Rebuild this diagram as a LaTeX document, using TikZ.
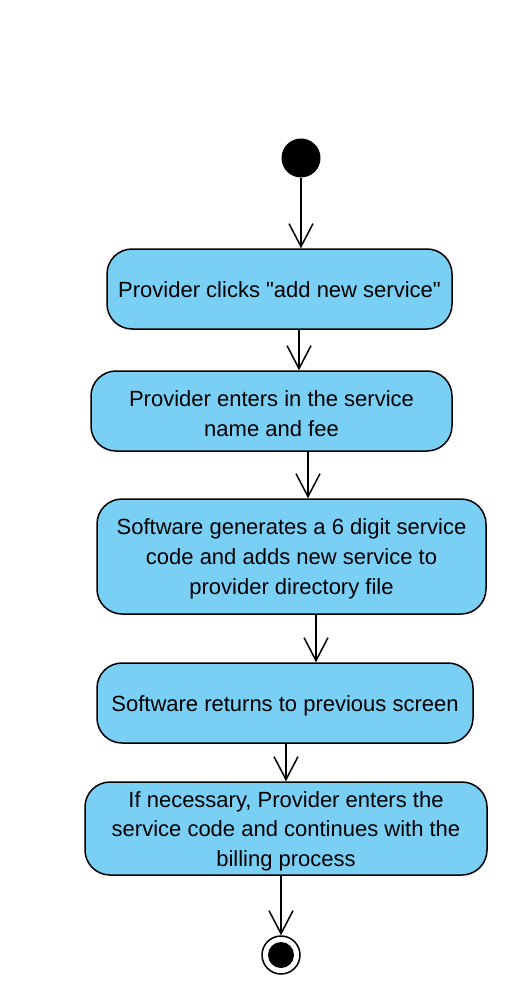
\documentclass[tikz,border=0pt]{standalone}
\usepackage{fontspec}
\setmainfont{Liberation Sans}[Ligatures=TeXOff]
\usetikzlibrary{arrows.meta}
\definecolor{actfill}{RGB}{122,207,245}
\newcommand{\tpad}{\rule{0pt}{21pt}}
\tikzset{
  actbox/.style={draw=black, line width=1.5pt, fill=actfill, rounded corners=25pt, align=center, inner sep=0pt,
    font=\fontsize{22}{30}\selectfont},
  flow/.style={draw=black, line width=1.5pt, -{Straight Barb[length=23pt,width=24pt,line width=1.5pt]}},
}
\begin{document}
\begin{tikzpicture}[x=1pt,y=-1pt]
\useasboundingbox[fill=white] (0,0) rectangle (512,1008);
\node[circle, fill=black, minimum size=39pt, inner sep=0pt] (start) at (301,158) {};
\node[actbox, minimum width=345pt, minimum height=80pt] (b1) at (279.5,289) {\rule{0pt}{18pt}Provider clicks "add new service"};
\node[actbox, minimum width=361pt, minimum height=80pt] (b2) at (271.5,411) {\tpad Provider enters in the service \\ name and fee};
\node[actbox, minimum width=389pt, minimum height=115pt] (b3) at (291.5,556.5) {\tpad Software generates a 6 digit service\\ code and adds new service to\\ provider directory file};
\node[actbox, minimum width=376pt, minimum height=80pt] (b4) at (285,703) {\tpad Software returns to previous screen};
\node[actbox, minimum width=402pt, minimum height=93pt, font=\fontsize{22}{29.5}\selectfont] (b5) at (286,828.5) {\tpad If necessary, Provider enters the\\ service code and continues with the\\ billing process};
\node[circle, draw=black, line width=1.5pt, fill=white, minimum size=38pt, inner sep=0pt] (end) at (281,955) {};
\node[circle, fill=black, minimum size=26pt, inner sep=0pt] (endin) at (end.center) {};
\draw[flow] (start) -- (b1.north -| start);
\draw[flow] (b1.south -| 299,0) -- (b2.north -| 299,0);
\draw[flow] (b2.south -| 308,0) -- (b3.north -| 308,0);
\draw[flow] (b3.south -| 316,0) -- (b4.north -| 316,0);
\draw[flow] (b4.south -| 286,0) -- (b5.north -| 286,0);
\draw[flow] (b5.south -| end) -- (end);
\end{tikzpicture}
\end{document}
